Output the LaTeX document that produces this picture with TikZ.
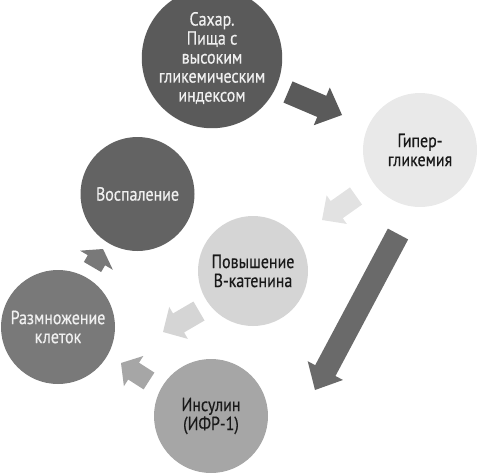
\documentclass[tikz,border=0pt]{standalone}
\usepackage{fontspec}
\setmainfont{PT Sans}[FakeStretch=0.84,FakeBold=0.4]
\usetikzlibrary{calc}
\definecolor{sugarcol}{HTML}{5A5A5A}
\definecolor{hypercol}{HTML}{E9E9E9}
\definecolor{inflamcol}{HTML}{636363}
\definecolor{betacol}{HTML}{D5D5D5}
\definecolor{prolifcol}{HTML}{797979}
\definecolor{insulincol}{HTML}{A6A6A6}
\definecolor{darkarrow}{HTML}{6A6A6A}
\tikzset{
  stage/.style={circle,minimum size=114pt,inner sep=0pt,align=center,
    font=\fontsize{19}{19}\selectfont},
  darkstage/.style={stage,fill=#1,text=white!94!black},
  lightstage/.style={stage,fill=#1,text=black!90}
}
% block arrow: tail, tip, shaft half width, head half width, head length, colour
\newcommand{\blockarrow}[6]{%
  \coordinate (hb) at ($(#2)!#5!(#1)$);
  \fill[#6] ($(#1)!#3!90:(#2)$) -- ($(hb)!#3!90:(#2)$) -- ($(hb)!#4!90:(#2)$) -- (#2)
    -- ($(hb)!#4!-90:(#2)$) -- ($(hb)!#3!-90:(#2)$) -- ($(#1)!#3!-90:(#2)$) -- cycle;}
\begin{document}
\begin{tikzpicture}[x=1pt,y=-1pt]
				\useasboundingbox (0,0) rectangle (479,474);
				\node[darkstage=sugarcol] (sugar) at (212,58) {Сахар.\\Пища с\\высоким\\гликемическим\\индексом};
				\node[lightstage=hypercol] (hyper) at (420,150) {Гипер-\\гликемия};
				\node[darkstage=inflamcol] (inflam) at (137.5,194) {Воспаление};
				\node[lightstage=betacol,minimum size=110pt] (beta) at (253,271) {Повышение\\В-катенина};
				\node[darkstage=prolifcol] (prolif) at (58,327) {Размножение\\клеток};
				\node[lightstage=insulincol] (insulin) at (211,416) {Инсулин\\(ИФР-1)};
				\coordinate (a1s) at (288,92);
				\coordinate (a1e) at (342,115);
				\coordinate (a2s) at (356,196);
				\coordinate (a2e) at (322,220);
				\coordinate (a3s) at (398,234);
				\coordinate (a3e) at (315,390);
				\coordinate (a4s) at (199,311);
				\coordinate (a4e) at (163,332);
				\coordinate (a5s) at (149,381);
				\coordinate (a5e) at (121,363);
				\coordinate (a6s) at (92.5,267);
				\coordinate (a6e) at (103,249);
				\blockarrow{a1s}{a1e}{11.5pt}{20.5pt}{22pt}{sugarcol}
				\blockarrow{a2s}{a2e}{10.5pt}{17.5pt}{18pt}{hypercol!97!black}
				\blockarrow{a3s}{a3e}{11.5pt}{20pt}{22pt}{darkarrow}
				\blockarrow{a4s}{a4e}{11pt}{18.5pt}{18pt}{betacol}
				\blockarrow{a5s}{a5e}{10pt}{18pt}{15pt}{insulincol}
				\blockarrow{a6s}{a6e}{10pt}{19pt}{13pt}{prolifcol}
\end{tikzpicture}
\end{document}
